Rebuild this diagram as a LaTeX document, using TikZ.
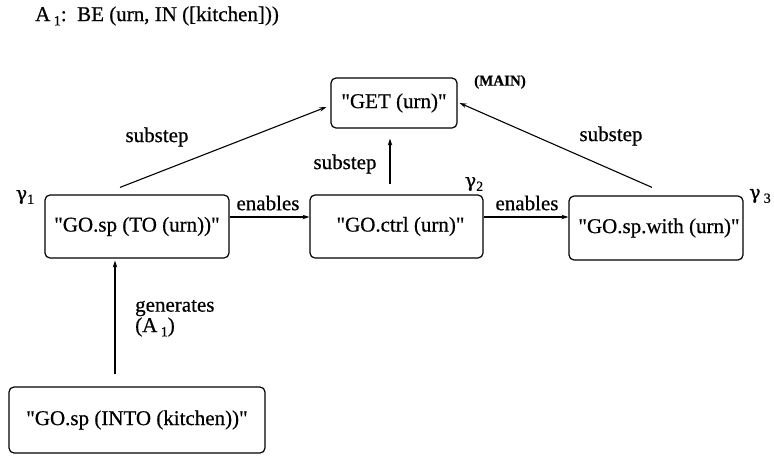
\documentclass[tikz,border=0pt]{standalone}
\usepackage{fontspec}
\setmainfont{Liberation Serif}[FakeBold=0.6,Ligatures=TeXOff]
\newfontfamily\gfont{DejaVu Serif}[FakeBold=0.8]
\usetikzlibrary{arrows.meta}
\newcommand{\sbs}[1]{\raisebox{-0.45ex}{\fontsize{14}{14}\selectfont #1}}
\begin{document}
\begin{tikzpicture}[x=1pt,y=-1pt,
  box/.style={draw,line width=1.2pt,rounded corners=5pt,inner sep=0pt,font=\fontsize{21}{24}\selectfont},
  lab/.style={inner sep=0pt,font=\fontsize{21}{24}\selectfont},
  gam/.style={inner sep=0pt,font=\fontsize{19}{22}\selectfont},
  arr/.style={line width=1.1pt,-{Stealth[length=7pt,width=4.5pt]}}]
\useasboundingbox (0,0) rectangle (774,456);
% boxes
\node[box,minimum width=126pt,minimum height=50pt] (get) at (394,103) {"GET (urn)"};
\node[box,minimum width=184pt,minimum height=63pt] (sp) at (137,226.5) {"GO.sp (TO (urn))"};
\node[box,minimum width=173pt,minimum height=63pt] (ctrl) at (396.5,226.5) {\hspace{8pt}"GO.ctrl (urn)"};
\node[box,minimum width=174pt,minimum height=64pt] (with) at (656,228) {\hspace{6pt}"GO.sp.with (urn)"};
\node[box,minimum width=256pt,minimum height=66pt] (into) at (137,420) {"GO.sp (INTO (kitchen))"};
% text labels
\node[lab,anchor=west] (title) at (35,16) {A\,\sbs{1}:\ \ BE (urn, IN ([kitchen]))};
\node[inner sep=0pt,font=\fontsize{15}{17}\selectfont\bfseries] (main) at (500,82) {(MAIN)};
\node[gam] (g1) at (25,197) {{\gfont γ}\sbs{1}};
\node[gam] (g2) at (474,184) {{\gfont γ}\sbs{2}};
\node[gam] (g3) at (760,196) {{\gfont γ}\,\sbs{3}};
\node[lab] (s1) at (157,137) {substep};
\node[lab] (s2) at (345,164) {substep};
\node[lab] (s3) at (611,136) {substep};
\node[lab] (e1) at (268,203) {enables};
\node[lab] (e2) at (527,203) {enables};
\node[lab,anchor=west] (gen) at (135,308) {generates};
\node[lab,anchor=west] (gena) at (135,327) {(A\,\sbs{1})};
% connectors
\draw[arr] ([xshift=-17pt,yshift=7pt]sp.north) -- ([xshift=-4pt,yshift=-4pt]get.west);
\draw[arr] ([xshift=-6.5pt,yshift=10pt]ctrl.north) -- ([xshift=-4pt,yshift=-10pt]get.south);
\draw[arr] ([xshift=-4pt,yshift=8pt]with.north) -- ([xshift=2pt]get.east);
\draw[arr] ([yshift=9.5pt]sp.east) -- ([yshift=9.5pt]ctrl.west);
\draw[arr] ([yshift=9.5pt]ctrl.east) -- ([yshift=11pt]with.west);
\draw[arr] ([xshift=-22pt,yshift=12pt]into.north) -- ([xshift=-22pt,yshift=-2pt]sp.south);
\end{tikzpicture}
\end{document}
